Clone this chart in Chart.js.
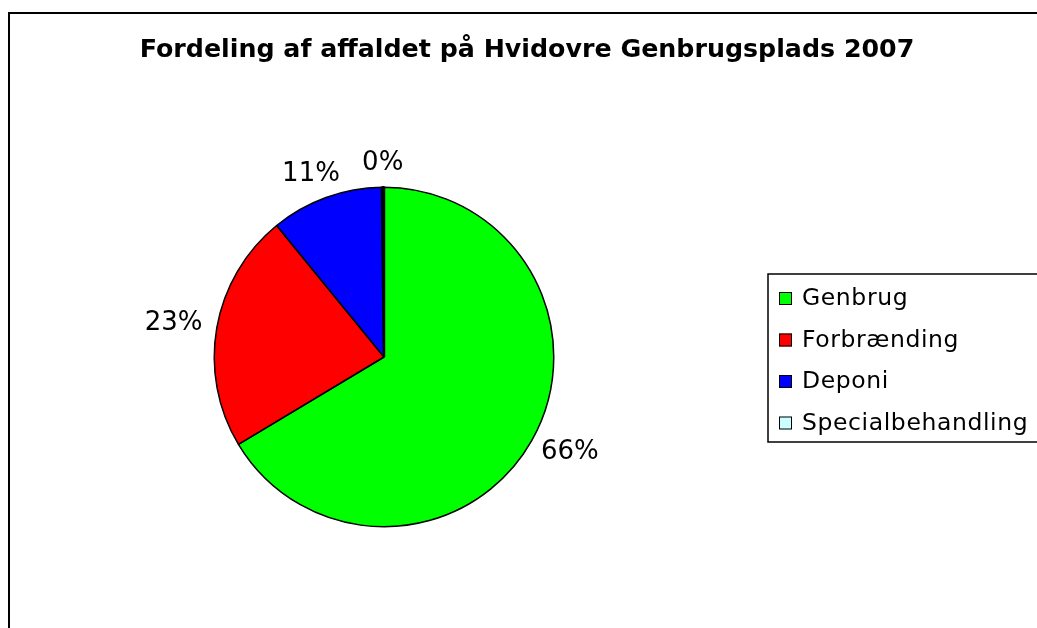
<!DOCTYPE html>
<html>
<head>
<meta charset="utf-8">
<script src="https://cdn.jsdelivr.net/npm/chart.js@4.4.1/dist/chart.umd.min.js"></script>
<style>
  html, body { margin: 0; padding: 0; background: #ffffff; }
  #wrap { width: 1037px; height: 628px; position: relative; }
</style>
</head>
<body>
<div id="wrap"><canvas id="c" width="1037" height="628"></canvas></div>
<script>
const chartTitle = "Fordeling af affaldet på Hvidovre Genbrugsplads 2007";
const categories = ["Genbrug", "Forbrænding", "Deponi", "Specialbehandling"];
const shares = [66.4, 22.7, 10.7, 0.2];
const sliceColors = ["#00FF00", "#FF0000", "#0000FF", "#CCFFFF"];

const FONT = "'DejaVu Sans', Verdana, sans-serif";

const decorPlugin = {
  id: 'decor',
  beforeDraw(chart) {
    const ctx = chart.ctx;
    ctx.save();
    ctx.fillStyle = '#ffffff';
    ctx.fillRect(0, 0, chart.width, chart.height);
    // outer frame
    ctx.strokeStyle = '#000000';
    ctx.lineWidth = 2;
    ctx.strokeRect(9, 13, 1200, 800);
    // title
    ctx.fillStyle = '#000000';
    ctx.font = 'bold 25.3px ' + FONT;
    ctx.textAlign = 'center';
    ctx.textBaseline = 'alphabetic';
    ctx.fillText(chartTitle, 527, 57);
    ctx.restore();
  },
  afterDraw(chart) {
    const ctx = chart.ctx;
    const meta = chart.getDatasetMeta(0);
    const data = chart.data.datasets[0].data;
    const total = data.reduce((a, b) => a + b, 0);
    ctx.save();
    ctx.font = '26px ' + FONT;
    ctx.fillStyle = '#000000';
    ctx.textAlign = 'center';
    ctx.textBaseline = 'middle';
    meta.data.forEach((arc, i) => {
      const p = arc.getProps(['x', 'y', 'startAngle', 'endAngle', 'outerRadius'], true);
      const mid = (p.startAngle + p.endAngle) / 2;
      const dx = Math.cos(mid), dy = Math.sin(mid);
      const txt = Math.round(data[i] / total * 100) + '%';
      const w = ctx.measureText(txt).width;
      const h = 19;
      const r = p.outerRadius + 15;
      const ax = p.x + dx * r, ay = p.y + dy * r;
      ctx.fillText(txt, ax + dx * w / 2, ay + dy * h / 2);
    });
    // legend
    const lx = 768, ly = 274, lh = 168;
    ctx.lineWidth = 1.5;
    ctx.strokeStyle = '#000000';
    ctx.strokeRect(lx, ly, 400, lh);
    ctx.font = '23.5px ' + FONT;
    try { ctx.letterSpacing = '0.6px'; } catch (e) {}
    ctx.textAlign = 'left';
    ctx.textBaseline = 'middle';
    categories.forEach((name, i) => {
      const y = 292 + i * 41.5;
      ctx.fillStyle = sliceColors[i];
      ctx.fillRect(779, y, 13, 13);
      ctx.lineWidth = 1;
      ctx.strokeStyle = '#000000';
      ctx.strokeRect(779.5, y + 0.5, 12, 12);
      ctx.fillStyle = '#000000';
      ctx.fillText(name, 802, y + 7);
    });
    ctx.restore();
  }
};

new Chart(document.getElementById('c'), {
  type: 'pie',
  data: {
    labels: categories,
    datasets: [{
      data: shares,
      backgroundColor: sliceColors,
      borderColor: '#000000',
      borderWidth: [1.5, 1.5, 1.5, 2.5]
    }]
  },
  options: {
    responsive: false,
    animation: false,
    layout: { padding: { left: 213, top: 186, right: 482, bottom: 100 } },
    plugins: {
      legend: { display: false },
      title: { display: false },
      tooltip: { enabled: false }
    }
  },
  plugins: [decorPlugin]
});
</script>
</body>
</html>
